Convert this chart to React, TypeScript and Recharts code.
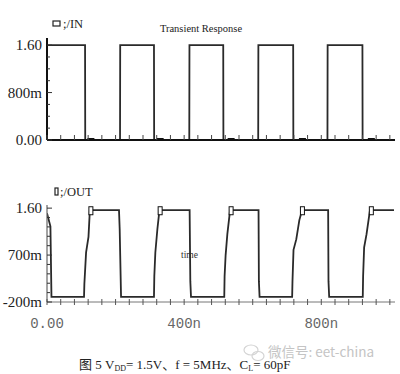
import { ComposedChart, Line, Scatter, XAxis, YAxis } from 'recharts'

// time in ns, voltage in V
const IN_WAVE = [
  [0, 1.6], [111, 1.6], [111.5, 0], [213, 0], [213.5, 1.6], [312, 1.6], [312.5, 0],
  [415, 0], [415.5, 1.6], [514, 1.6], [514.5, 0], [616, 0], [616.5, 1.6], [718, 1.6],
  [718.5, 0], [818, 0], [818.5, 1.6], [920, 1.6], [920.5, 0], [1015, 0],
]

const OUT_WAVE = [
  [0, 1.5], [10, 1.25], [13, -0.1],
  [108, -0.1], [109, 0.15], [114, 0.75], [121, 1.05], [125, 1.56],
  [210, 1.56], [212, 1.2], [216, -0.1],
  [312, -0.1], [313, 0.3], [316, 0.75], [322, 1.2], [328, 1.56],
  [416, 1.56], [418, 0.2], [420, -0.1],
  [517, -0.1], [518, 0.3], [521, 0.7], [526, 1.1], [534, 1.56],
  [617, 1.56], [618, 0.2], [620, -0.1],
  [715, -0.1], [716, 0.2], [719, 0.8], [727, 1.0], [736, 1.37], [744, 1.56],
  [820, 1.56], [821, 0.2], [823, -0.1],
  [921, -0.1], [922, 0.3], [925, 0.85], [932, 1.1], [942, 1.56],
  [1012, 1.56],
]

const MARKER_TIMES = [128, 330, 537, 745, 946]

const X_TICKS = [
  0, 40, 80, 120, 160, 200, 240, 280, 320, 360, 400, 440, 480,
  520, 560, 600, 640, 680, 720, 760, 800, 840, 880, 920, 960, 1000,
]
const X_LABELS: Record<string, string> = { '0': '0.00', '400': '400n', '800': '800n' }

const IN_Y_TICKS = [0, 0.2, 0.4, 0.6, 0.8, 1.0, 1.2, 1.4, 1.6]
const IN_Y_LABELS: Record<string, string> = { '0': '0.00', '0.8': '800m', '1.6': '1.60' }

const OUT_Y_TICKS = [-0.2, -0.02, 0.16, 0.34, 0.52, 0.7, 0.88, 1.06, 1.24, 1.42, 1.6]
const OUT_Y_LABELS: Record<string, string> = { '-0.2': '-200m', '0.7': '700m', '1.6': '1.60' }

const toPoints = (wave: number[][]) => wave.map(([t, v]) => ({ t, v }))

const SERIF = '"Liberation Serif", "Times New Roman", serif'
const MONO = '"Liberation Mono", monospace'

const yTick = (labels: Record<string, string>) => (props: any) => {
  const { x, y, payload } = props
  const label = labels[String(payload.value)]
  return (
    <g>
      <line x1={x} x2={x + (label ? 5 : 3)} y1={y} y2={y} stroke="#333" strokeWidth={1} />
      {label && (
        <text x={x - 5} y={y} dy="0.35em" textAnchor="end" fontFamily={SERIF} fontSize={15} fill="#222">
          {label}
        </text>
      )}
    </g>
  )
}

const xTickTop = (props: any) => {
  const { x, y } = props
  return <line x1={x} x2={x} y1={y} y2={y - 5} stroke="#444" strokeWidth={1} />
}

const xTickBottom = (props: any) => {
  const { x, y, payload } = props
  const label = X_LABELS[String(payload.value)]
  return (
    <g>
      <line x1={x} x2={x} y1={y - 3} y2={y + 3} stroke="#555" strokeWidth={1} />
      {label && (
        <text x={x} y={y + 26} textAnchor="middle" fontFamily={MONO} fontSize={14} fill="#666">
          {label}
        </text>
      )}
    </g>
  )
}

const inMarker = (props: any) => (
  <rect x={props.cx - 3.5} y={props.cy - 2} width={7} height={4} fill="#111" />
)

const outMarker = (props: any) => (
  <rect x={props.cx - 2} y={props.cy - 4} width={4} height={8} fill="#fff" stroke="#111" strokeWidth={1} />
)

export default function App() {
  const inData = toPoints(IN_WAVE)
  const outData = toPoints(OUT_WAVE)
  const inMarks = MARKER_TIMES.map((t) => ({ t, v: 0 }))
  const outMarks = MARKER_TIMES.map((t) => ({ t, v: 1.55 }))

  return (
    <div style={{ position: 'absolute', left: 0, top: 0, width: 400, height: 374, background: '#fff', overflow: 'hidden' }}>
      <svg width={400} height={374} style={{ position: 'absolute', left: 0, top: 0 }}>
        <text x={201} y={32} textAnchor="middle" fontFamily={SERIF} fontSize={10.5} fill="#222">
          Transient Response
        </text>
        <rect x={53} y={21} width={7} height={5} fill="none" stroke="#222" strokeWidth={1.2} />
        <text x={63} y={28} fontFamily={SERIF} fontSize={12.5} fill="#222">;/IN</text>
        <rect x={55} y={188} width={3} height={7} fill="none" stroke="#222" strokeWidth={1.2} />
        <text x={60} y={196} fontFamily={SERIF} fontSize={12.5} fill="#222">;/OUT</text>
        <text x={181} y={258} fontFamily={SERIF} fontSize={9.5} fill="#333">time</text>
        <ellipse cx={251} cy={350} rx={7} ry={5} fill="none" stroke="#d4d4d4" strokeWidth={1.2} />
        <ellipse cx={258} cy={356} rx={6} ry={4.5} fill="none" stroke="#d4d4d4" strokeWidth={1.2} />
        <text x={268} y={357} fontFamily='"Noto Sans CJK SC", sans-serif' fontSize={13.5} fill="#c4c4c4">
          微信号: eet-china
        </text>
        <text x={79} y={369} fontFamily={`${SERIF}, "Noto Sans CJK SC"`} fontSize={13} fill="#222">
          图 5  V<tspan fontSize={8} dy={2}>DD</tspan>
          <tspan dy={-2}>= 1.5V、f = 5MHz、C</tspan>
          <tspan fontSize={8} dy={2}>L</tspan>
          <tspan dy={-2}>= 60pF</tspan>
        </text>
      </svg>

      <div style={{ position: 'absolute', left: 0, top: 0 }}>
        <ComposedChart width={400} height={160} margin={{ top: 38, right: 5, left: 0, bottom: 0 }}>
          <XAxis
            dataKey="t"
            type="number"
            domain={[0, 1015]}
            ticks={X_TICKS}
            interval={0}
            tick={xTickTop}
            tickLine={false}
            tickSize={0}
            tickMargin={0}
            height={20}
            axisLine={{ stroke: '#111', strokeWidth: 2 }}
            allowDataOverflow
          />
          <YAxis
            dataKey="v"
            type="number"
            domain={[0, 1.72]}
            ticks={IN_Y_TICKS}
            interval={0}
            tick={yTick(IN_Y_LABELS)}
            tickLine={false}
            tickSize={0}
            tickMargin={0}
            width={47}
            axisLine={{ stroke: '#111', strokeWidth: 2 }}
            allowDataOverflow
          />
          <Line data={inData} dataKey="v" type="linear" stroke="#2a2a2a" strokeWidth={1.8} dot={false} isAnimationActive={false} />
          <Scatter data={inMarks} dataKey="v" shape={inMarker} isAnimationActive={false} />
        </ComposedChart>
      </div>

      <div style={{ position: 'absolute', left: 0, top: 180 }}>
        <ComposedChart width={400} height={162} margin={{ top: 25, right: 5, left: 0, bottom: 0 }}>
          <XAxis
            dataKey="t"
            type="number"
            domain={[0, 1015]}
            ticks={X_TICKS}
            interval={0}
            tick={xTickBottom}
            tickLine={false}
            tickSize={0}
            tickMargin={0}
            height={40}
            axisLine={{ stroke: '#777', strokeWidth: 1 }}
            allowDataOverflow
          />
          <YAxis
            dataKey="v"
            type="number"
            domain={[-0.2, 1.66]}
            ticks={OUT_Y_TICKS}
            interval={0}
            tick={yTick(OUT_Y_LABELS)}
            tickLine={false}
            tickSize={0}
            tickMargin={0}
            width={47}
            axisLine={{ stroke: '#666', strokeWidth: 1.2 }}
            allowDataOverflow
          />
          <Line data={outData} dataKey="v" type="linear" stroke="#2a2a2a" strokeWidth={1.8} dot={false} isAnimationActive={false} />
          <Scatter data={outMarks} dataKey="v" shape={outMarker} isAnimationActive={false} />
        </ComposedChart>
      </div>
    </div>
  )
}
